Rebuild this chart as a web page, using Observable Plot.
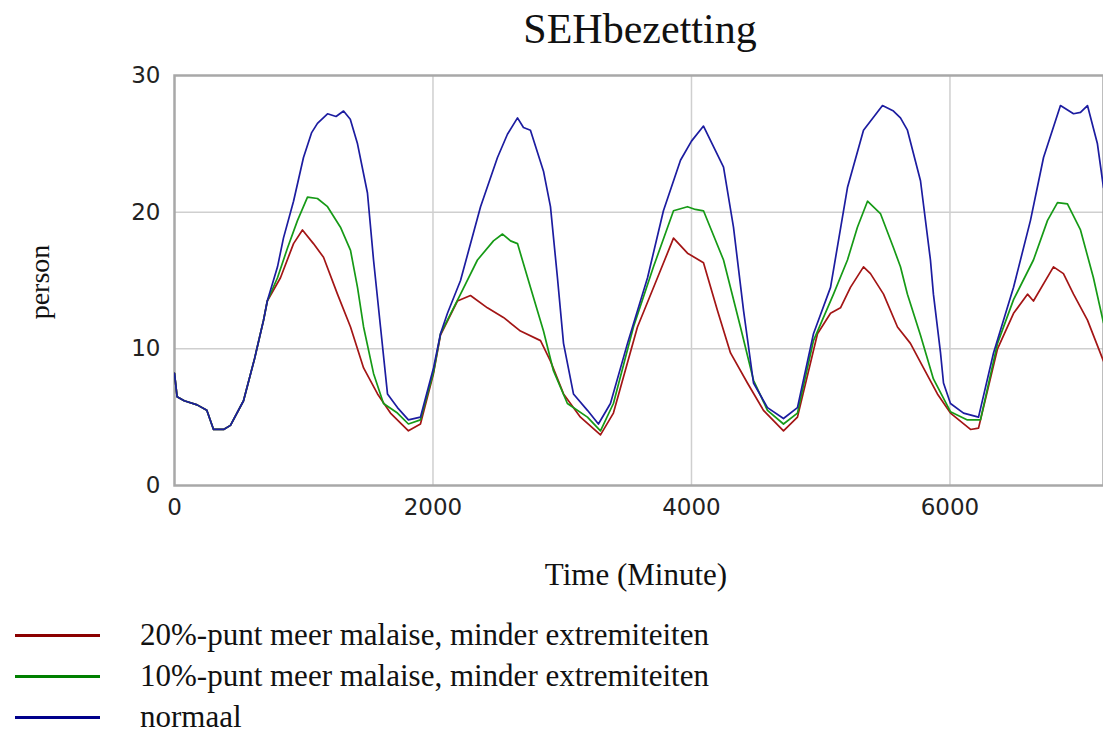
<!DOCTYPE html>
<html>
<head>
<meta charset="utf-8">
<script src="https://cdn.jsdelivr.net/npm/d3@7"></script>
<script src="https://cdn.jsdelivr.net/npm/@observablehq/plot@0.6"></script>
<style>
  html, body { margin: 0; padding: 0; background: #fff; }
  #wrap { position: relative; width: 1103px; height: 734px; overflow: hidden; }
  #chart { position: absolute; left: 0; top: 0; }
  .serif { font-family: "Liberation Serif", "Times New Roman", serif; color: #111; position: absolute; white-space: nowrap; }
  #title { left: 0; width: 1280px; text-align: center; top: 4px; font-size: 42px; line-height: 50px; }
  #xlabel { left: 0; width: 1272px; text-align: center; top: 557px; font-size: 31px; line-height: 36px; }
  #ylabel { left: 40px; top: 282px; font-size: 28px; transform: translate(-50%, -50%) rotate(-90deg); }
  .leg { left: 0; font-size: 31px; line-height: 36px; }
  .leg span.sw { position: absolute; left: 15px; top: 17px; width: 85px; height: 3px; }
  .leg span.tx { position: absolute; left: 140px; top: 0; }
</style>
</head>
<body>
<div id="wrap">
  <div id="chart"></div>
  <div id="title" class="serif">SEHbezetting</div>
  <div id="xlabel" class="serif">Time (Minute)</div>
  <div id="ylabel" class="serif">person</div>
  <div id="legend"></div>
</div>
<script>
// Shared start (all three scenarios coincide here)
const commonT = [0, 20, 75, 175, 250, 302, 380, 433, 534, 620, 689, 718];
const commonV = [8.2, 6.5, 6.2, 5.9, 5.5, 4.1, 4.1, 4.4, 6.2, 9.3, 12.1, 13.5];

// normaal (blue)
const normaalT = [797, 843, 921, 998, 1060, 1106, 1184, 1250, 1308, 1360, 1416, 1493, 1540, 1594, 1648, 1725, 1810, 1903, 2004, 2058, 2112, 2213, 2368, 2499, 2576, 2654, 2700, 2754, 2855, 2909, 2963, 3010, 3087, 3195, 3280, 3373, 3505, 3660, 3783, 3915, 4000, 4093, 4248, 4325, 4403, 4480, 4588, 4712, 4820, 4944, 5076, 5207, 5331, 5478, 5563, 5617, 5671, 5772, 5849, 5872, 5927, 5950, 6004, 6105, 6221, 6337, 6492, 6623, 6724, 6855, 6956, 7010, 7064, 7141, 7188];
const normaalV = [16.0, 18.1, 20.8, 24.0, 25.8, 26.5, 27.2, 27.0, 27.4, 26.8, 25.0, 21.4, 16.5, 11.6, 6.7, 5.7, 4.8, 5.0, 8.6, 11.1, 12.6, 15.0, 20.4, 24.0, 25.7, 26.9, 26.2, 26.0, 23.0, 20.4, 15.2, 10.4, 6.7, 5.5, 4.5, 6.0, 10.4, 15.2, 20.1, 23.8, 25.2, 26.3, 23.3, 18.9, 12.8, 7.5, 5.7, 4.9, 5.7, 11.1, 14.5, 21.8, 26.0, 27.8, 27.4, 26.9, 26.0, 22.3, 16.5, 14.0, 9.7, 7.5, 6.0, 5.3, 5.0, 9.7, 14.5, 19.4, 24.0, 27.8, 27.2, 27.3, 27.8, 25.0, 21.8];

// 10%-punt meer malaise, minder extremiteiten (green)
const pct10T = [797, 875, 952, 1029, 1106, 1184, 1284, 1362, 1416, 1463, 1540, 1617, 1725, 1810, 1903, 2004, 2058, 2213, 2344, 2468, 2538, 2600, 2654, 2754, 2855, 2932, 3040, 3195, 3296, 3396, 3551, 3706, 3861, 3969, 4030, 4093, 4248, 4379, 4480, 4588, 4712, 4820, 4944, 5099, 5207, 5284, 5362, 5462, 5563, 5617, 5671, 5772, 5872, 6004, 6135, 6236, 6368, 6492, 6646, 6755, 6832, 6909, 7010, 7110, 7188];
const pct10V = [15.2, 17.4, 19.4, 21.1, 21.0, 20.4, 18.9, 17.2, 14.5, 11.6, 8.2, 6.0, 5.3, 4.5, 4.8, 8.3, 11.1, 14.0, 16.5, 17.9, 18.4, 17.9, 17.7, 14.5, 11.3, 8.4, 6.0, 5.0, 4.0, 6.0, 11.6, 16.0, 20.1, 20.4, 20.2, 20.1, 16.5, 11.6, 7.7, 5.5, 4.5, 5.3, 10.6, 14.0, 16.5, 18.9, 20.8, 19.9, 17.4, 16.0, 14.0, 11.0, 7.8, 5.4, 4.8, 4.8, 10.4, 13.6, 16.5, 19.4, 20.7, 20.6, 18.7, 15.2, 11.9];

// 20%-punt meer malaise, minder extremiteiten (red)
const pct20T = [820, 921, 990, 1075, 1153, 1261, 1362, 1463, 1571, 1671, 1810, 1903, 2004, 2058, 2189, 2290, 2421, 2545, 2677, 2832, 2909, 3010, 3141, 3296, 3396, 3582, 3737, 3861, 3969, 4093, 4201, 4302, 4433, 4557, 4712, 4820, 4975, 5076, 5153, 5230, 5331, 5385, 5486, 5594, 5694, 5795, 5903, 6004, 6159, 6221, 6368, 6492, 6600, 6646, 6801, 6878, 6956, 7064, 7188];
const pct20V = [15.2, 17.7, 18.7, 17.7, 16.7, 14.0, 11.6, 8.6, 6.7, 5.3, 4.0, 4.5, 8.2, 11.0, 13.5, 13.9, 13.0, 12.3, 11.3, 10.6, 9.1, 6.7, 5.0, 3.7, 5.3, 11.6, 15.2, 18.1, 17.0, 16.3, 12.8, 9.7, 7.5, 5.5, 4.0, 5.0, 11.1, 12.6, 13.0, 14.5, 16.0, 15.5, 14.0, 11.6, 10.4, 8.6, 6.7, 5.3, 4.1, 4.2, 10.0, 12.6, 14.0, 13.5, 16.0, 15.5, 14.0, 12.1, 9.1];

const seriesNames = ["20%-punt meer malaise, minder extremiteiten", "10%-punt meer malaise, minder extremiteiten", "normaal"];
const seriesColors = ["#a31515", "#169a16", "#1c1ca0"];
const legendColors = ["#8b0000", "#008000", "#00008b"];
const xTicks = [0, 2000, 4000, 6000];
const yTicks = [0, 10, 20, 30];

function build(name, ts, vs) {
  const rows = commonT.map((t, i) => ({series: name, t, v: commonV[i]}));
  ts.forEach((t, i) => rows.push({series: name, t, v: vs[i]}));
  return rows;
}
const data = [
  ...build(seriesNames[0], pct20T, pct20V),
  ...build(seriesNames[1], pct10T, pct10V),
  ...build(seriesNames[2], normaalT, normaalV)
];

const chart = Plot.plot({
  width: 1103,
  height: 600,
  marginLeft: 174,
  marginRight: 0,
  marginTop: 75,
  marginBottom: 115,
  style: {fontFamily: "DejaVu Sans, sans-serif", fontSize: "23px", color: "#222", background: "#fff"},
  x: {domain: [0, 7188], ticks: xTicks, label: null},
  y: {domain: [0, 30], ticks: yTicks, label: null},
  color: {domain: seriesNames, range: seriesColors},
  marks: [
    Plot.ruleX(xTicks.filter(d => d > 0), {stroke: "#cfcfcf", strokeWidth: 1.5}),
    Plot.ruleY(yTicks.filter(d => d > 0 && d < 30), {stroke: "#cfcfcf", strokeWidth: 1.5}),
    Plot.frame({stroke: "#a8a8a8", strokeWidth: 2.5}),
    Plot.line(data, {x: "t", y: "v", z: "series", stroke: "series", strokeWidth: 1.7, clip: true}),
    Plot.axisX({ticks: xTicks, tickSize: 0, tickPadding: 13, label: null, fontSize: 23, tickFormat: d => String(d)}),
    Plot.axisY({ticks: yTicks, tickSize: 0, tickPadding: 14, label: null, fontSize: 23, tickFormat: d => String(d)})
  ]
});
document.getElementById("chart").appendChild(chart);

const legend = document.getElementById("legend");
const legTops = [617, 658, 699];
seriesNames.forEach((n, i) => {
  const row = document.createElement("div");
  row.className = "serif leg";
  row.style.top = legTops[i] + "px";
  row.innerHTML = `<span class="sw" style="background:${legendColors[i]}"></span><span class="tx">${n}</span>`;
  legend.appendChild(row);
});
</script>
</body>
</html>
